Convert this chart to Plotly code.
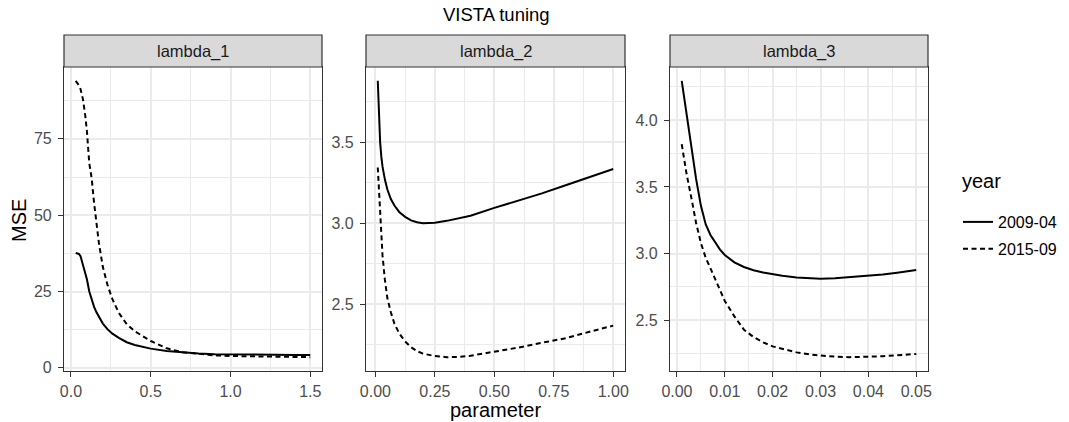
import plotly.graph_objects as go
import numpy as np

W, H = 1069, 422

# ---------------- data ----------------
panels = ["lambda_1", "lambda_2", "lambda_3"]
years = ["2009-04", "2015-09"]

x_l1 = [0.03, 0.05, 0.06, 0.075, 0.09, 0.1, 0.115, 0.13, 0.145, 0.16, 0.175, 0.2, 0.23, 0.26,
        0.3, 0.35, 0.4, 0.5, 0.6, 0.7, 0.8, 0.9, 1.0, 1.1, 1.2, 1.3, 1.4, 1.5]
mse_l1_2009 = [37.6, 37.3, 36.6, 34.0, 31.5, 29.0, 25.0, 22.4, 20.0, 18.2, 16.7, 14.5, 12.6, 11.2,
               9.8, 8.4, 7.5, 6.3, 5.5, 5.0, 4.7, 4.5, 4.4, 4.3, 4.3, 4.2, 4.2, 4.2]
mse_l1_2015 = [94.0, 92.5, 91.3, 88.0, 82.5, 77.5, 67.0, 62.0, 54.0, 47.5, 41.0, 33.0, 27.0, 22.5,
               18.0, 14.3, 12.0, 8.8, 6.4, 5.1, 4.5, 4.1, 3.9, 3.8, 3.7, 3.6, 3.6, 3.5]

x_l2 = [0.01, 0.015, 0.02, 0.025, 0.03, 0.04, 0.05, 0.065, 0.08, 0.1, 0.125, 0.15, 0.175, 0.2, 0.25,
        0.3, 0.35, 0.4, 0.5, 0.6, 0.7, 0.8, 0.9, 1.0]
mse_l2_2009 = [3.88, 3.64, 3.50, 3.41, 3.35, 3.27, 3.21, 3.15, 3.11, 3.07, 3.04, 3.018, 3.006, 3.001, 3.004,
               3.015, 3.03, 3.047, 3.095, 3.14, 3.185, 3.235, 3.285, 3.335]
mse_l2_2015 = [3.345, 3.20, 3.03, 2.90, 2.80, 2.65, 2.54, 2.45, 2.38, 2.32, 2.27, 2.235, 2.21, 2.195, 2.18,
               2.173, 2.174, 2.182, 2.205, 2.232, 2.262, 2.29, 2.33, 2.368]

x_l3 = [0.001, 0.002, 0.003, 0.004, 0.005, 0.006, 0.007, 0.008, 0.009, 0.01, 0.012, 0.014, 0.016,
        0.018, 0.02, 0.022, 0.025, 0.028, 0.03, 0.033, 0.036, 0.04, 0.043, 0.046, 0.05]
mse_l3_2009 = [4.295, 4.05, 3.81, 3.56, 3.36, 3.22, 3.14, 3.08, 3.03, 2.99, 2.935, 2.9, 2.875,
               2.858, 2.845, 2.835, 2.822, 2.815, 2.812, 2.815, 2.822, 2.833, 2.843, 2.857, 2.877]
mse_l3_2015 = [3.82, 3.6, 3.42, 3.23, 3.08, 2.97, 2.89, 2.81, 2.72, 2.645, 2.53, 2.43, 2.375,
               2.335, 2.305, 2.285, 2.26, 2.243, 2.235, 2.228, 2.224, 2.226, 2.231, 2.238, 2.248]

xs = [x_l1, x_l2, x_l3]
ys = [[mse_l1_2009, mse_l1_2015], [mse_l2_2009, mse_l2_2015], [mse_l3_2009, mse_l3_2015]]

x_major = [0.5, 0.25, 0.01]
y_major = [25, 0.5, 0.5]
x_tickfmt = [".1f", ".2f", ".2f"]
y_tickfmt = ["d", ".1f", ".1f"]

# ---------------- style ----------------
FONT = "Liberation Sans, Arial, Helvetica, sans-serif"
GRID = "#EBEBEB"
BORDER = "#333333"
dashes = ["solid", "5px,3.5px"]

px_x = [(64, 322), (366, 625), (670, 928)]
ydom = [1 - 371 / H, 1 - 67 / H]
strip_top = 1 - 35 / H

fig = go.Figure()

def expand(vals):
    lo, hi = float(np.min(vals)), float(np.max(vals))
    pad = 0.05 * (hi - lo)
    return [lo - pad, hi + pad]

layout = dict(
    width=W, height=H,
    margin=dict(l=0, r=0, t=0, b=0, autoexpand=False),
    paper_bgcolor="white", plot_bgcolor="white",
    font=dict(family=FONT, color="black"),
    showlegend=True,
)

shapes = []
annotations = []
for i in range(3):
    sfx = "" if i == 0 else str(i + 1)
    xa = "x" + sfx
    ya = "y" + sfx
    for j in range(2):
        fig.add_trace(go.Scatter(
            x=xs[i], y=ys[i][j], mode="lines",
            line=dict(color="black", width=2, dash=dashes[j]),
            name=years[j], legendgroup=years[j], showlegend=(i == 0),
            xaxis=xa, yaxis=ya,
        ))
    xr = expand(xs[i])
    yr = expand(ys[i][0] + ys[i][1])
    common = dict(
        showgrid=True, gridcolor=GRID, gridwidth=1.5,
        showline=True, mirror=True, linecolor=BORDER, linewidth=1.2,
        ticks="outside", ticklen=5, tickwidth=1.1, tickcolor=BORDER,
        tickfont=dict(size=16, color="#4D4D4D", family=FONT),
        zeroline=False, fixedrange=True, automargin=False,
    )
    layout["xaxis" + sfx] = dict(
        domain=[px_x[i][0] / W, px_x[i][1] / W], anchor=ya, range=xr,
        tick0=0, dtick=x_major[i], tickformat=x_tickfmt[i], ticklabelstandoff=1,
        minor=dict(dtick=x_major[i] / 2, tick0=0, showgrid=True, gridcolor=GRID, gridwidth=0.9, ticks=""),
        **common,
    )
    layout["yaxis" + sfx] = dict(
        domain=ydom, anchor=xa, range=yr,
        tick0=0, dtick=y_major[i], tickformat=y_tickfmt[i], ticklabelstandoff=3,
        minor=dict(dtick=y_major[i] / 2, tick0=0, showgrid=True, gridcolor=GRID, gridwidth=0.9, ticks=""),
        **common,
    )
    # strip
    shapes.append(dict(type="rect", xref=xa + " domain", yref="paper",
                       x0=0, x1=1, y0=ydom[1], y1=strip_top,
                       fillcolor="#D9D9D9", line=dict(color=BORDER, width=1.2), layer="above"))
    annotations.append(dict(text=panels[i], xref=xa + " domain", yref="paper",
                            x=0.5, y=(ydom[1] + strip_top) / 2, showarrow=False,
                            xanchor="center", yanchor="middle",
                            font=dict(size=16.5, color="#1A1A1A", family=FONT)))

annotations.append(dict(text="VISTA tuning", xref="paper", yref="paper",
                        x=496 / W, y=1 - 15 / H, showarrow=False,
                        xanchor="center", yanchor="middle",
                        font=dict(size=18.5, color="black", family=FONT)))
annotations.append(dict(text="parameter", xref="paper", yref="paper",
                        x=495 / W, y=0, showarrow=False,
                        xanchor="center", yanchor="bottom", borderpad=0,
                        font=dict(size=20, color="black", family=FONT)))
annotations.append(dict(text="MSE", xref="paper", yref="paper",
                        x=19 / W, y=1 - 221 / H, showarrow=False, textangle=-90,
                        xanchor="center", yanchor="middle",
                        font=dict(size=20, color="black", family=FONT)))
# legend title
annotations.append(dict(text="year", xref="paper", yref="paper",
                        x=960 / W, y=1 - 181 / H, showarrow=False,
                        xanchor="left", yanchor="middle",
                        font=dict(size=20, color="black", family=FONT)))

layout["shapes"] = shapes
layout["annotations"] = annotations
layout["legend"] = dict(
    font=dict(size=16, color="black", family=FONT),
    x=958 / W, xanchor="left", y=1 - 205 / H, yanchor="top",
    tracegroupgap=3, traceorder="grouped", bgcolor="rgba(0,0,0,0)",
)

fig.update_layout(**layout)
fig.write_html("out.html", config={"displayModeBar": False},
               post_script="document.body.style.margin='0';document.body.style.overflow='hidden';")
